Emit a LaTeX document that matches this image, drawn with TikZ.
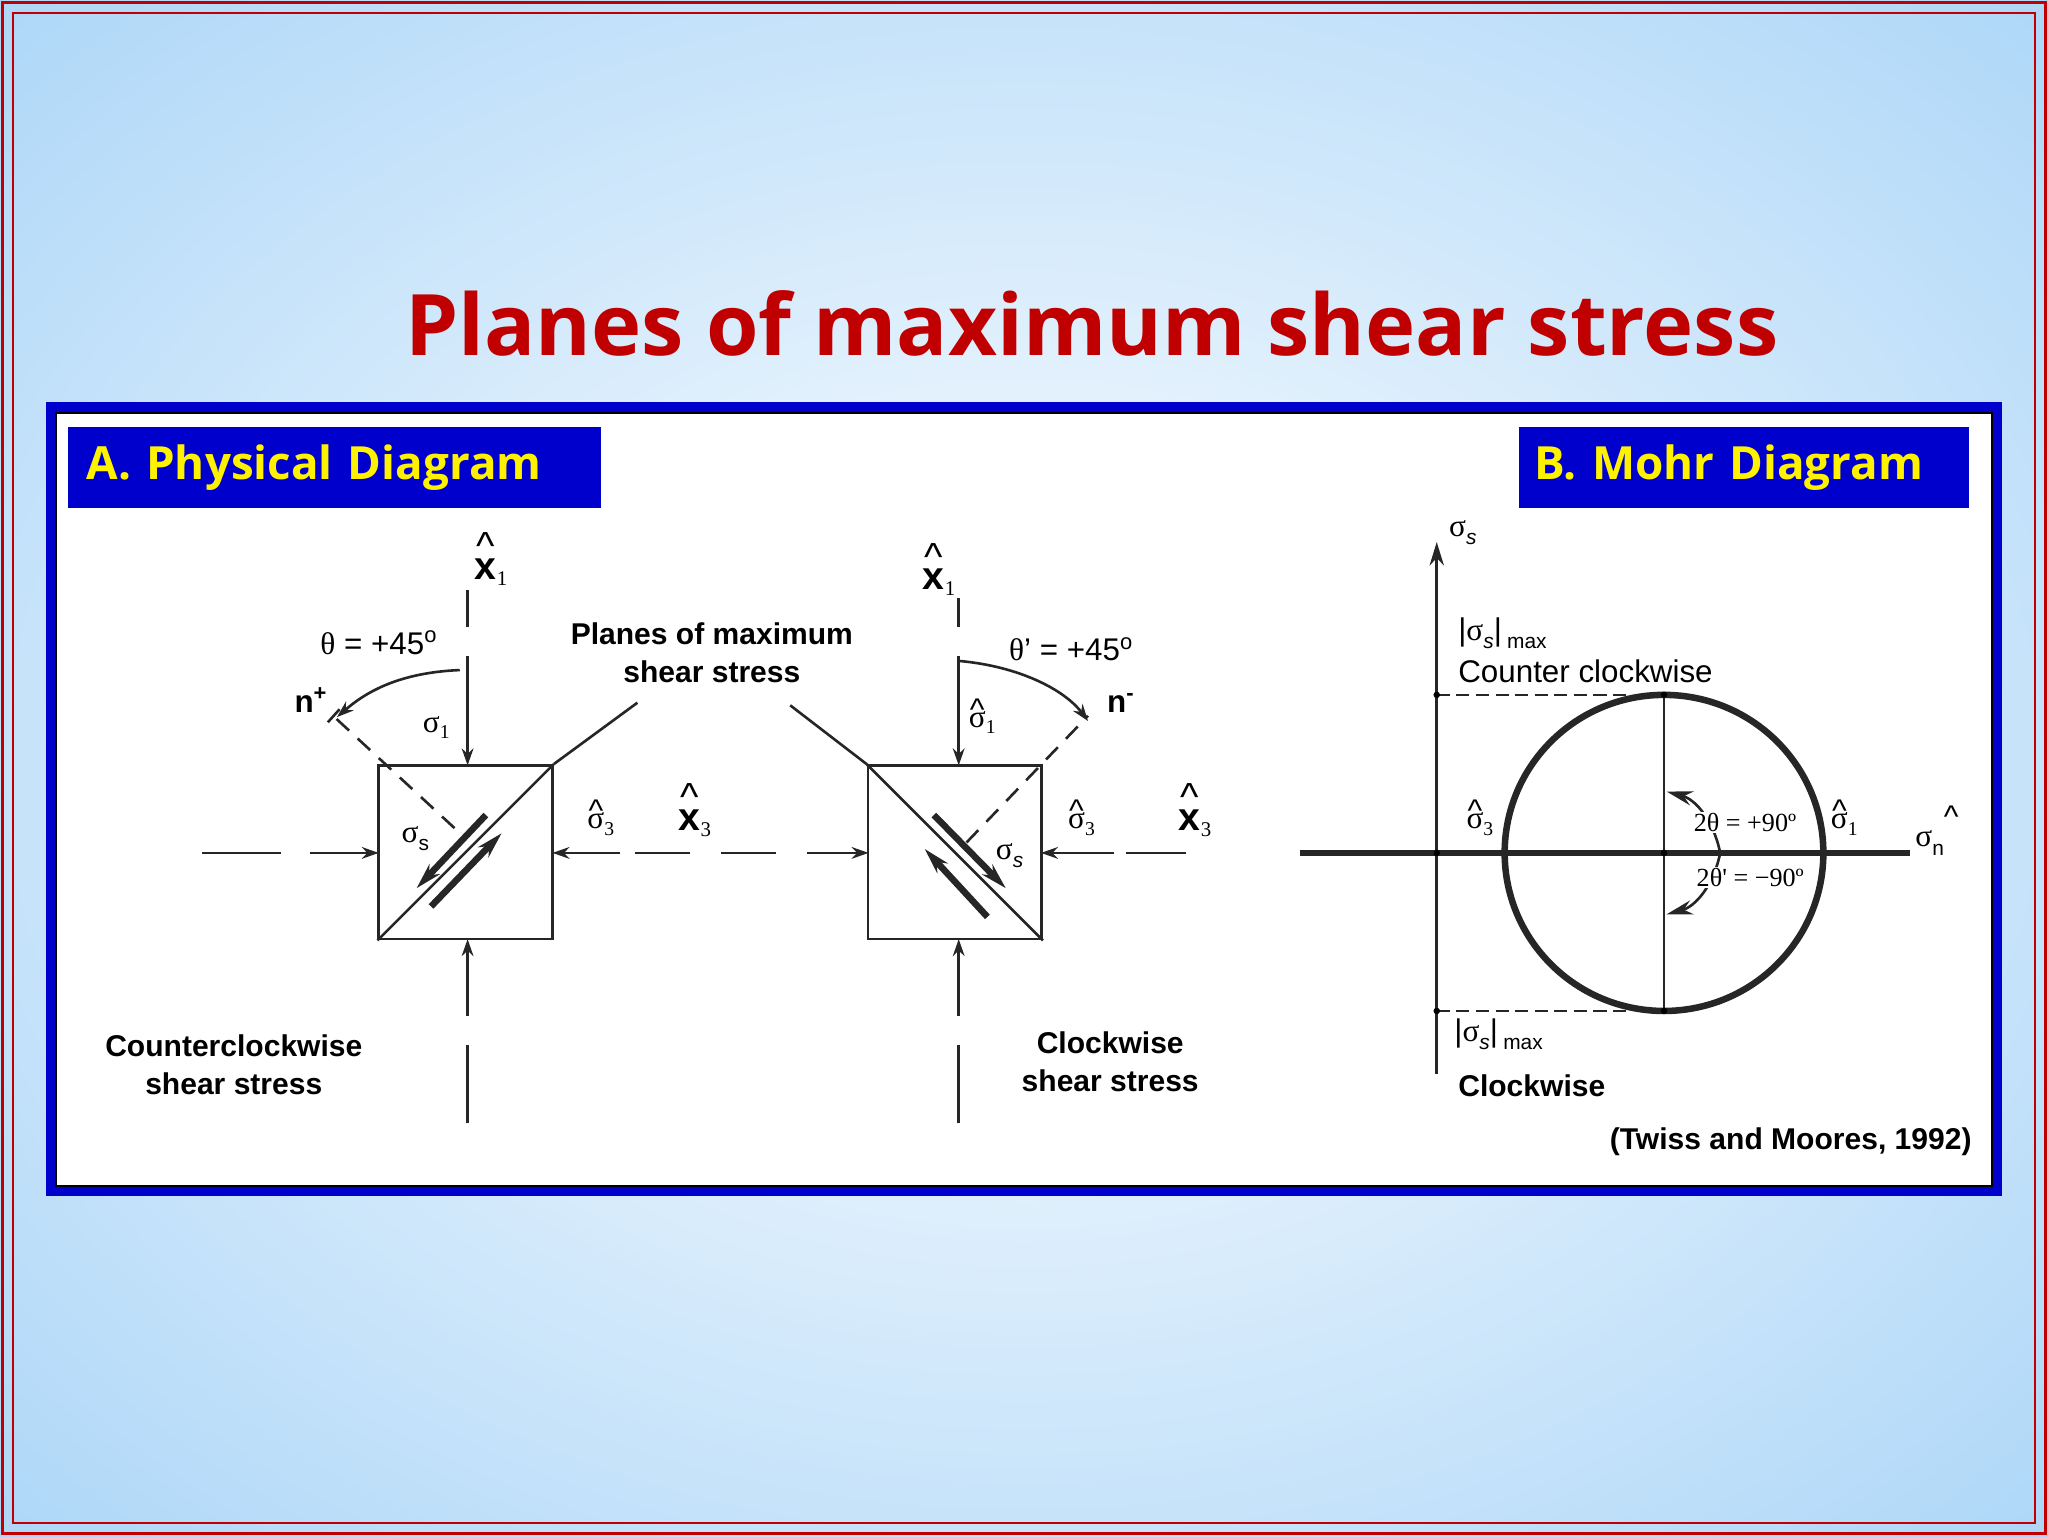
\documentclass[tikz,border=0pt]{standalone}
\usepackage{fontspec}
\setmainfont{Liberation Sans}
\newfontfamily\serifg{Liberation Serif}
\newfontfamily\titlef{Open Sans}
\usetikzlibrary{arrows.meta}
\definecolor{titlered}{HTML}{C00000}
\definecolor{frameblue}{HTML}{0000CC}
\definecolor{bgblue}{HTML}{A6D3F7}
\newcommand\hatted[1]{\ooalign{#1\cr\hidewidth\raisebox{0.22em}{\^{}}\hidewidth\cr}}
\newcommand\hattx[1]{\ooalign{#1\cr\hidewidth\raisebox{0.5em}{\mdseries\^{}}\hidewidth\cr}}
\newcommand\sg{{\serifg σ}}
\tikzset{
 lab/.style={font=\fontsize{24}{26}\selectfont},
 blab/.style={font=\bfseries\fontsize{23}{29}\selectfont, align=center},
 xlab/.style={font=\bfseries\fontsize{30}{30}\selectfont},
 tip/.style={-{Stealth[length=13pt,width=9pt]}},
 ln/.style={line width=2pt, black!85},
 dsh/.style={ln, dash pattern=on 60pt off 22pt},
 bar/.style={line width=5pt, black!85, -{Stealth[length=20pt,width=11pt]}},
 hdr/.style={fill=frameblue, text=yellow, font=\titlef\bfseries\fontsize{35}{35}\selectfont, anchor=west},
}
\begin{document}
\begin{tikzpicture}[x=1pt,y=-1pt]
\useasboundingbox (0,0) rectangle (1568,1176);
% background
\shade[inner color=white, outer color=bgblue] (-420,-320) rectangle (1988,1496);
\draw[titlered, line width=2.5pt] (2,2) rectangle (1566,1174);
\draw[titlered, line width=2pt] (10,10) rectangle (1558,1166);
\node[text=titlered, font=\titlef\bfseries\fontsize{65}{65}\selectfont] (title) at (836,248) {Planes of maximum shear stress};
% panel
\draw[frameblue, line width=8pt, fill=white] (39,312) rectangle (1529,912);
\draw[black, line width=1.5pt] (43,316) rectangle (1525,908);
\node[hdr, minimum height=62pt, minimum width=408pt, text width=380pt] (ha) at (52,358) {A. Physical Diagram};
\node[hdr, minimum height=62pt, minimum width=344pt, text width=320pt] (hb) at (1163,358) {B. Mohr Diagram};
% ===== left box =====
\node[draw, ln, minimum size=133pt, inner sep=0] (L) at (356.5,652.5) {};
\draw[ln] (L.south west) -- (L.north east);
\node[xlab] (Lx1) at (376,438) {\hattx{x}\raisebox{-0.3ex}{\serifg\mdseries\fontsize{16}{16}\selectfont 1}};
\draw[ln] (358,452) -- (358,480);
\draw[ln, tip] (358,502) -- (358,586);
\draw[dsh, tip] (358,860) -- (358,719);
\draw[dsh, tip] (155,653) -- (290,653);
\draw[ln, tip] (475,653) -- (423,653);
\draw[dsh, dash pattern=on 42pt off 24pt, tip] (486,653) -- (665,653);
\node[lab] (th) at (290,492) {{\serifg θ} = +45\textsuperscript{o}};
\node[font=\bfseries\fontsize{24}{24}\selectfont] (np) at (238,536) {n\textsuperscript{+}};
\node[lab] (s1) at (334,557) {\sg\raisebox{-0.4ex}{\serifg\fontsize{15}{15}\selectfont 1}};
\node[lab] (ss) at (318,642) {\sg\raisebox{-0.5ex}{\fontsize{16}{16}\selectfont s}};
\node[lab] (s3) at (460,631) {\hatted{\sg}\raisebox{-0.4ex}{\serifg\fontsize{15}{15}\selectfont 3}};
\node[xlab] (x3a) at (532,630) {\hattx{x}\raisebox{-0.3ex}{\serifg\mdseries\fontsize{16}{16}\selectfont 3}};
\draw[ln, dash pattern=on 13pt off 9pt] (348,634) -- (255,548);
\draw[ln] (251,553) -- (260,543);
\draw[ln, tip] (352,513) .. controls (305,515) and (280,530) .. (258,549);
\draw[bar] (372,624) -- (319,680);
\draw[bar] (330,694) -- (384,638);
% ===== right box =====
\node[draw, ln, minimum size=133pt, inner sep=0] (R) at (731,652.5) {};
\draw[ln] (R.north west) -- (R.south east);
\node[xlab] (Rx1) at (719,446) {\hattx{x}\raisebox{-0.3ex}{\serifg\mdseries\fontsize{16}{16}\selectfont 1}};
\draw[ln] (734,458) -- (734,480);
\draw[ln, tip] (734,502) -- (734,586);
\draw[dsh, tip] (734,860) -- (734,719);
\draw[ln, tip] (853,653) -- (797,653);
\draw[ln] (862,653) -- (908,653);
\node[lab] (thp) at (820,497) {{\serifg θ}' = +45\textsuperscript{o}};
\node[font=\bfseries\fontsize{24}{24}\selectfont] (nm) at (858,538) {n\textsuperscript{-}};
\node[lab] (rs1) at (752,553) {\hatted{\sg}\raisebox{-0.4ex}{\serifg\fontsize{15}{15}\selectfont 1}};
\node[lab] (rss) at (773,655) {\sg\raisebox{-0.5ex}{\itshape\fontsize{16}{16}\selectfont s}};
\node[lab] (rs3) at (828,631) {\hatted{\sg}\raisebox{-0.4ex}{\serifg\fontsize{15}{15}\selectfont 3}};
\node[xlab] (x3b) at (915,630) {\hattx{x}\raisebox{-0.3ex}{\serifg\mdseries\fontsize{16}{16}\selectfont 3}};
\draw[ln, dash pattern=on 13pt off 9pt] (740,645) -- (833,548);
\draw[ln, tip] (734,506) .. controls (780,510) and (815,528) .. (833,552);
\draw[bar] (715,624) -- (770,680);
\draw[bar] (756,702) -- (708,650);
% leader lines & labels
\node[blab] (pm) at (545,500) {Planes of maximum\\shear stress};
\draw[ln] (488,538) -- (L.north east);
\draw[ln] (605,540) -- (R.north west);
\node[blab] (ccw) at (179,815) {Counterclockwise\\shear stress};
\node[blab] (cw) at (850,813) {Clockwise\\shear stress};
% ===== Mohr =====
\coordinate (C) at (1274,653);
\draw[ln, -{Stealth[length=18pt,width=11pt]}] (1100,822) -- (1100,415);
\draw[black!85, line width=4pt] (995,653) -- (1462,653);
\draw[black!85, line width=5pt] (C) ellipse (122pt and 121pt);
\draw[ln] (1274,532) -- (1274,774);
\draw[ln, dash pattern=on 10pt off 5pt] (1100,532) -- (1250,532);
\draw[ln, dash pattern=on 10pt off 5pt] (1100,774) -- (1250,774);
\foreach \p in {(1100,532),(1100,774),(1274,532),(1274,774),(1274,653),(1100,653)} \fill[black] \p circle (2.5pt);
\draw[ln, -{Stealth[length=20pt,width=11pt]}] (1317,653) .. controls (1312,628) and (1298,612) .. (1276,606);
\draw[ln, -{Stealth[length=20pt,width=11pt]}] (1317,653) .. controls (1312,678) and (1298,694) .. (1276,700);
\node[lab] (sgs) at (1120,408) {\sg\raisebox{-0.5ex}{\itshape\fontsize{16}{16}\selectfont s}};
\node[lab, anchor=west] (smax1) at (1113,485) {|\sg\raisebox{-0.5ex}{\itshape\fontsize{16}{16}\selectfont s}|\,\raisebox{-0.5ex}{\fontsize{16}{16}\selectfont max}};
\node[lab, anchor=west] (ccwm) at (1113,514) {Counter clockwise};
\node[lab] (ms3) at (1133,631) {\hatted{\sg}\raisebox{-0.4ex}{\serifg\fontsize{15}{15}\selectfont 3}};
\node[lab] (ms1) at (1412,631) {\hatted{\sg}\raisebox{-0.4ex}{\serifg\fontsize{15}{15}\selectfont 1}};
\node[lab] (msn) at (1483,636) {\sg\raisebox{-0.5ex}{\fontsize{16}{16}\selectfont n}\raisebox{0.6em}{\^{}}};
\node[font=\serifg\fontsize{20}{20}\selectfont, fill=white, inner sep=1pt] (a1) at (1336,630) {2θ = +90º};
\node[font=\serifg\fontsize{20}{20}\selectfont, fill=white, inner sep=1pt] (a2) at (1340,672) {2θ' = −90º};
\node[lab, anchor=west] (smax2) at (1110,792) {|\sg\raisebox{-0.5ex}{\itshape\fontsize{16}{16}\selectfont s}|\,\raisebox{-0.5ex}{\fontsize{16}{16}\selectfont max}};
\node[font=\bfseries\fontsize{23}{23}\selectfont, anchor=west] (cwm) at (1113,831) {Clockwise};
\node[font=\bfseries\fontsize{23}{23}\selectfont, anchor=east] (ref) at (1513,874) {(Twiss and Moores, 1992)};
\end{tikzpicture}
\end{document}
